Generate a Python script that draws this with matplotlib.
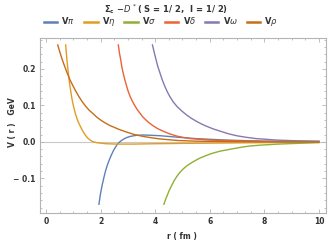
import matplotlib
matplotlib.use("Agg")
import matplotlib.pyplot as plt
from matplotlib.ticker import MultipleLocator

# values
r_pi = [1.94, 1.99, 2.05, 2.12, 2.18, 2.25, 2.32, 2.4, 2.47, 2.54, 2.6, 2.67, 2.75, 2.85, 2.96, 3.08,
        3.3, 3.56, 3.9, 4.18, 4.8, 5.5, 6.6, 8.0, 10.0]
v_pi = [-0.171, -0.145, -0.121, -0.098, -0.08, -0.063, -0.049, -0.035, -0.024, -0.015, -0.008, -0.002,
        0.003, 0.008, 0.012, 0.015, 0.018, 0.019, 0.018, 0.017, 0.013, 0.009, 0.005, 0.002, 0.001]

r_eta = [0.72, 0.745, 0.77, 0.795, 0.82, 0.85, 0.88, 0.91, 0.94, 0.98, 1.02, 1.06, 1.1, 1.14, 1.18,
         1.25, 1.31, 1.37, 1.43, 1.49, 1.55, 1.62, 1.68, 1.75, 1.85, 1.95, 2.2, 2.6, 3.2, 4.0, 5.0,
         6.5, 8.0, 10.0]
v_eta = [0.266, 0.243, 0.223, 0.204, 0.187, 0.168, 0.152, 0.137, 0.123, 0.107, 0.094, 0.082, 0.072,
         0.063, 0.055, 0.044, 0.035, 0.027, 0.02, 0.014, 0.009, 0.005, 0.002, 0.0, -0.002, -0.003,
         -0.005, -0.006, -0.006, -0.005, -0.004, -0.003, -0.002, -0.001]

r_sigma = [4.32, 4.38, 4.45, 4.52, 4.6, 4.69, 4.79, 4.89, 5.0, 5.12, 5.25, 5.38, 5.52, 5.68, 5.85,
           6.02, 6.2, 6.4, 6.62, 6.9, 7.2, 7.5, 7.84, 8.5, 9.2, 10.0]
v_sigma = [-0.171, -0.158, -0.145, -0.132, -0.12, -0.107, -0.095, -0.085, -0.076, -0.068, -0.061,
           -0.055, -0.049, -0.043, -0.038, -0.033, -0.029, -0.025, -0.022, -0.018, -0.014, -0.011,
           -0.009, -0.006, -0.004, -0.002]

r_delta = [2.65, 2.69, 2.74, 2.78, 2.83, 2.89, 2.95, 3.01, 3.08, 3.16, 3.25, 3.34, 3.44, 3.54, 3.65,
           3.78, 3.93, 4.1, 4.3, 4.53, 4.79, 5.05, 5.3, 5.65, 6.0, 6.5, 7.0, 8.5, 10.0]
v_delta = [0.266, 0.244, 0.224, 0.205, 0.188, 0.17, 0.154, 0.139, 0.125, 0.112, 0.1, 0.089, 0.079,
           0.069, 0.061, 0.052, 0.044, 0.036, 0.029, 0.022, 0.016, 0.012, 0.009, 0.007, 0.005, 0.004,
           0.003, 0.001, 0.0005]

r_omega = [3.9, 3.97, 4.03, 4.1, 4.18, 4.26, 4.35, 4.44, 4.54, 4.66, 4.8, 4.97, 5.15, 5.32, 5.5, 5.7,
           5.88, 6.15, 6.4, 6.7, 6.98, 7.3, 7.7, 8.1, 8.45, 9.2, 10.0]
v_omega = [0.266, 0.244, 0.226, 0.206, 0.188, 0.17, 0.153, 0.138, 0.124, 0.11, 0.097, 0.085, 0.074,
           0.065, 0.057, 0.049, 0.043, 0.035, 0.029, 0.022, 0.017, 0.013, 0.009, 0.007, 0.005, 0.003,
           0.002]

r_rho = [0.43, 0.5, 0.58, 0.67, 0.77, 0.88, 1.0, 1.1, 1.2, 1.32, 1.45, 1.58, 1.73, 1.86, 2.0, 2.17,
         2.34, 2.5, 2.65, 2.8, 2.95, 3.25, 3.56, 3.9, 4.18, 4.5, 4.8, 5.5, 6.5, 8.0, 10.0]
v_rho = [0.266, 0.248, 0.229, 0.21, 0.19, 0.17, 0.152, 0.138, 0.125, 0.111, 0.098, 0.087, 0.077,
         0.068, 0.06, 0.052, 0.045, 0.04, 0.035, 0.031, 0.027, 0.02, 0.015, 0.011, 0.008, 0.006,
         0.004, 0.002, 0.001, 0.0003, 0.0]

labels = [r'V$\pi$', r'V$\eta$', r'V$\sigma$', r'V$\delta$', r'V$\omega$', r'V$\rho$']
colors = ['#5E81B5', '#E19C24', '#8FB032', '#EB6235', '#8778B3', '#C56E1A']
series = [(r_pi, v_pi), (r_eta, v_eta), (r_sigma, v_sigma),
          (r_delta, v_delta), (r_omega, v_omega), (r_rho, v_rho)]

W, H = 333, 243
fig = plt.figure(figsize=(W / 100, H / 100), dpi=100)
ax = fig.add_axes([40 / W, 1 - 213 / H, (325.5 - 40) / W, (213 - 38) / H])

ax.axhline(0, color='#c8c8c8', lw=0.8, zorder=1)
for (r, v), c, lab in zip(series, colors, labels):
    ax.plot(r, v, color=c, lw=1.0, label=lab, zorder=2)

ax.set_xlim(-0.22, 10.24)
ax.set_ylim(-0.195, 0.285)

frame = '#b4b4b4'
for s in ax.spines.values():
    s.set_color(frame)
    s.set_linewidth(0.8)
ax.xaxis.set_major_locator(MultipleLocator(2))
ax.xaxis.set_minor_locator(MultipleLocator(0.5))
ax.yaxis.set_major_locator(MultipleLocator(0.1))
ax.yaxis.set_minor_locator(MultipleLocator(0.02))
ax.tick_params(which='both', direction='in', top=True, right=True, color=frame, width=0.6,
               labelsize=5.5, labelcolor='#333333', pad=3)
ax.tick_params(which='major', length=3)
ax.tick_params(which='minor', length=1.6)
for t in ax.get_xticklabels() + ax.get_yticklabels():
    t.set_fontweight('bold')
ax.set_yticks([-0.1, 0.0, 0.1, 0.2])
ax.set_yticklabels(['\u2212 0.1', '0.0', '0.1', '0.2'], fontweight='bold')

fig.text(166 / W, 1 - 9 / H, r'$\mathbf{\Sigma_c}$ $\mathbf{-}\mathit{D}^{\,*}$( S = 1/ 2,  I = 1/ 2)',
         ha='center', va='center', fontsize=6, fontweight='bold', color='#333333')
fig.text(13 / W, 1 - 122 / H, 'V ( r )   GeV', rotation=90, ha='center', va='center',
         fontsize=5.5, fontweight='bold', color='#333333')
fig.text(182 / W, 1 - 236 / H, 'r ( fm )', ha='center', va='center',
         fontsize=5.5, fontweight='bold', color='#333333')

leg = fig.legend(loc='center', bbox_to_anchor=(161 / W, 1 - 22 / H), ncol=6, frameon=False,
                 handlelength=1.6, handletextpad=0.5, columnspacing=1.1,
                 prop={'weight': 'bold', 'size': 6})
for t in leg.get_texts():
    t.set_color('#333333')
for h in leg.legend_handles:
    h.set_linewidth(1.8)

fig.savefig('out.png', dpi=100)
